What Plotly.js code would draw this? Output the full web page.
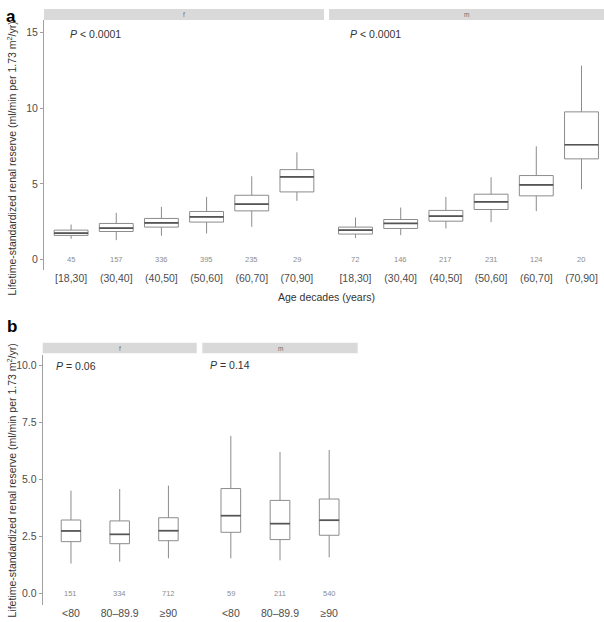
<!DOCTYPE html>
<html>
<head>
<meta charset="utf-8">
<script src="https://cdn.plot.ly/plotly-3.0.1.min.js"></script>
<style>
  html, body { margin: 0; padding: 0; background: #ffffff; }
  #chart { width: 604px; height: 622px; }
</style>
</head>
<body>
<div id="chart"></div>
<script>
// ---- Panel a: lifetime-standardized renal reserve by age decade ----
const ageDecades = ['[18,30]', '(30,40]', '(40,50]', '(50,60]', '(60,70]', '(70,90]'];

const ageF_lower  = [1.38, 1.29, 1.58, 1.73, 2.17, 3.88];
const ageF_q1     = [1.60, 1.86, 2.15, 2.48, 3.22, 4.47];
const ageF_median = [1.75, 2.08, 2.43, 2.83, 3.66, 5.46];
const ageF_q3     = [1.95, 2.39, 2.72, 3.18, 4.25, 5.94];
const ageF_upper  = [2.32, 3.09, 3.49, 4.14, 5.50, 7.08];
const ageF_n      = [45, 157, 336, 395, 235, 29];

const ageM_lower  = [1.43, 1.62, 2.06, 2.48, 3.20, 4.65];
const ageM_q1     = [1.69, 2.06, 2.54, 3.31, 4.21, 6.65];
const ageM_median = [1.95, 2.39, 2.87, 3.82, 4.93, 7.58];
const ageM_q3     = [2.15, 2.65, 3.25, 4.32, 5.55, 9.75];
const ageM_upper  = [2.79, 3.44, 4.14, 5.44, 7.48, 12.80];
const ageM_n      = [72, 146, 217, 231, 124, 20];

// ---- Panel b: by baseline eGFR group ----
const egfrGroups = ['<80', '80\u201389.9', '\u226590'];

const egfrF_lower  = [1.32, 1.40, 1.55];
const egfrF_q1     = [2.28, 2.19, 2.32];
const egfrF_median = [2.75, 2.60, 2.76];
const egfrF_q3     = [3.23, 3.19, 3.33];
const egfrF_upper  = [4.52, 4.59, 4.74];
const egfrF_n      = [151, 334, 712];

const egfrM_lower  = [1.55, 1.46, 1.59];
const egfrM_q1     = [2.69, 2.37, 2.56];
const egfrM_median = [3.42, 3.07, 3.22];
const egfrM_q3     = [4.61, 4.09, 4.15];
const egfrM_upper  = [6.92, 6.21, 6.30];
const egfrM_n      = [59, 211, 540];

// P-value text after the italic "P"
const pValues = ['< 0.0001', '< 0.0001', '= 0.06', '= 0.14'];
const stripLabels = ['f', 'm', 'f', 'm'];

// ---- styling ----
const FONT = 'Liberation Sans, Arial, Helvetica, sans-serif';
const W = 604, H = 622;
const px = v => v / W;           // horizontal pixel -> paper
const py = v => 1 - v / H;       // vertical pixel -> paper
const BOX_LINE = '#8c8c8c';
const MEDIAN_LINE = '#555555';
const AXIS_GREY = '#a0a0a0';
// the line-ew marker spans 1.4 x its nominal size
const LINE_SYMBOL_SCALE = 1.4;

function boxTrace(x, lo, q1, med, q3, hi, xa, ya, width) {
  return {
    type: 'box', x: x, q1: q1, median: med, q3: q3,
    lowerfence: lo, upperfence: hi,
    xaxis: xa, yaxis: ya, width: width,
    boxpoints: false, whiskerwidth: 0,
    fillcolor: '#ffffff',
    line: { color: BOX_LINE, width: 1 },
    hoverinfo: 'skip', showlegend: false
  };
}

function medianTrace(x, med, xa, ya, pxWidth) {
  return {
    type: 'scatter', mode: 'markers', x: x, y: med,
    xaxis: xa, yaxis: ya,
    marker: { symbol: 'line-ew', size: pxWidth / LINE_SYMBOL_SCALE,
              line: { color: MEDIAN_LINE, width: 1.7 } },
    hoverinfo: 'skip', showlegend: false, cliponaxis: false
  };
}

const data = [
  boxTrace(ageDecades, ageF_lower, ageF_q1, ageF_median, ageF_q3, ageF_upper, 'x', 'y', 0.75),
  medianTrace(ageDecades, ageF_median, 'x', 'y', 34),
  boxTrace(ageDecades, ageM_lower, ageM_q1, ageM_median, ageM_q3, ageM_upper, 'x2', 'y2', 0.75),
  medianTrace(ageDecades, ageM_median, 'x2', 'y2', 34),
  boxTrace(egfrGroups, egfrF_lower, egfrF_q1, egfrF_median, egfrF_q3, egfrF_upper, 'x3', 'y3', 0.4),
  medianTrace(egfrGroups, egfrF_median, 'x3', 'y3', 20),
  boxTrace(egfrGroups, egfrM_lower, egfrM_q1, egfrM_median, egfrM_q3, egfrM_upper, 'x4', 'y4', 0.4),
  medianTrace(egfrGroups, egfrM_median, 'x4', 'y4', 20)
];

const tickFont = { family: FONT, size: 10.5, color: '#4d4d4d' };

function xAxis(domain, range, anchor) {
  return {
    domain: domain, range: range, anchor: anchor, type: 'category',
    showline: false, showgrid: false, zeroline: false, ticks: '',
    tickfont: tickFont, fixedrange: true
  };
}

function yAxis(domain, range, anchor, tickvals, ticktext, showLabels) {
  return {
    domain: domain, range: range, anchor: anchor,
    showgrid: false, zeroline: false,
    showline: showLabels, linecolor: AXIS_GREY, linewidth: 1,
    ticks: showLabels ? 'outside' : '', ticklen: 3, tickcolor: AXIS_GREY,
    tickvals: tickvals, ticktext: ticktext, showticklabels: showLabels,
    tickfont: tickFont, fixedrange: true
  };
}

const yDomA = [py(270), py(20)];
const yDomB = [py(605), py(355)];
const yRangeA = [-0.68, 15.81];
const yRangeB = [-0.5, 10.47];

const strips = [
  [44, 324, 9, 20], [329, 604, 9, 20],
  [42.7, 196.7, 342.7, 353.3], [202.3, 357.7, 342.7, 353.3]
];

const shapes = strips.map(s => ({
  type: 'rect', xref: 'paper', yref: 'paper',
  x0: px(s[0]), x1: px(s[1]), y0: py(s[3]), y1: py(s[2]),
  fillcolor: '#d9d9d9', line: { width: 0 }, layer: 'below'
}));

const annotations = [];

// group sizes printed along the zero line of each panel
[[ageDecades, ageF_n, 'x', 'y'], [ageDecades, ageM_n, 'x2', 'y2'],
 [egfrGroups, egfrF_n, 'x3', 'y3'], [egfrGroups, egfrM_n, 'x4', 'y4']].forEach(g => {
  g[0].forEach((cat, j) => {
    annotations.push({
      xref: g[2], yref: g[3], x: cat, y: 0,
      text: String(g[1][j]), showarrow: false,
      font: { family: FONT, size: 7.5, color: '#8c8c8c' },
      xanchor: 'center', yanchor: 'middle'
    });
  });
});

strips.forEach((s, i) => {
  annotations.push({
    xref: 'paper', yref: 'paper',
    x: px((s[0] + s[1]) / 2), y: py((s[2] + s[3]) / 2),
    text: stripLabels[i], showarrow: false,
    font: { family: FONT, size: 6.5, color: '#6e6e6e' },
    xanchor: 'center', yanchor: 'middle'
  });
});

// italic "P" followed by the comparison text
const P_FONT_SIZE = 10.5;
const P_ADVANCE = 10;   // width of "P" plus a space at this size
const pPos = [[67.5, 34], [348, 34], [54, 366], [208, 365]];
pPos.forEach((p, i) => {
  annotations.push({
    xref: 'paper', yref: 'paper', x: px(p[0]), y: py(p[1]),
    text: 'P', showarrow: false,
    font: { family: FONT, size: P_FONT_SIZE, color: '#333333', style: 'italic' },
    xanchor: 'left', yanchor: 'middle'
  });
  annotations.push({
    xref: 'paper', yref: 'paper', x: px(p[0] + P_ADVANCE), y: py(p[1]),
    text: pValues[i], showarrow: false,
    font: { family: FONT, size: P_FONT_SIZE, color: '#333333' },
    xanchor: 'left', yanchor: 'middle'
  });
});

const yTitle = 'Lifetime-standardized renal reserve (ml/min per 1.73 m<sup>2</sup>/yr)';
[[159], [481]].forEach(c => {
  annotations.push({
    xref: 'paper', yref: 'paper', x: px(10.5), y: py(c[0]),
    text: yTitle, textangle: -90, showarrow: false,
    font: { family: FONT, size: 10.5, color: '#333333' },
    xanchor: 'center', yanchor: 'middle'
  });
});

annotations.push({
  xref: 'paper', yref: 'paper', x: px(326), y: py(297),
  text: 'Age decades (years)', showarrow: false,
  font: { family: FONT, size: 10.5, color: '#333333' },
  xanchor: 'center', yanchor: 'middle'
});

annotations.push({
  xref: 'paper', yref: 'paper', x: px(4), y: py(17),
  text: 'a', showarrow: false,
  font: { family: FONT, size: 17, color: '#000000', weight: 'bold' },
  xanchor: 'left', yanchor: 'middle'
});
annotations.push({
  xref: 'paper', yref: 'paper', x: px(5), y: py(326),
  text: 'b', showarrow: false,
  font: { family: FONT, size: 17, color: '#000000', weight: 'bold' },
  xanchor: 'left', yanchor: 'middle'
});

const layout = {
  width: W, height: H,
  margin: { l: 0, r: 0, t: 0, b: 0, pad: 0 },
  paper_bgcolor: '#ffffff', plot_bgcolor: 'rgba(0,0,0,0)',
  showlegend: false,
  xaxis:  xAxis([px(44), px(324)], [-0.6, 5.6], 'y'),
  xaxis2: xAxis([px(329), 1], [-0.586, 5.498], 'y2'),
  xaxis3: xAxis([px(42.7), px(196.7)], [-0.58, 2.58], 'y3'),
  xaxis4: xAxis([px(202.3), px(357.7)], [-0.58, 2.58], 'y4'),
  yaxis:  yAxis(yDomA, yRangeA, 'x', [0, 5, 10, 15], ['0', '5', '10', '15'], true),
  yaxis2: yAxis(yDomA, yRangeA, 'x2', [0, 5, 10, 15], ['0', '5', '10', '15'], false),
  yaxis3: yAxis(yDomB, yRangeB, 'x3', [0, 2.5, 5, 7.5, 10], ['0.0', '2.5', '5.0', '7.5', '10.0'], true),
  yaxis4: yAxis(yDomB, yRangeB, 'x4', [0, 2.5, 5, 7.5, 10], ['0.0', '2.5', '5.0', '7.5', '10.0'], false),
  shapes: shapes,
  annotations: annotations,
  font: { family: FONT }
};

Plotly.newPlot('chart', data, layout, { staticPlot: true, displayModeBar: false });
</script>
</body>
</html>
